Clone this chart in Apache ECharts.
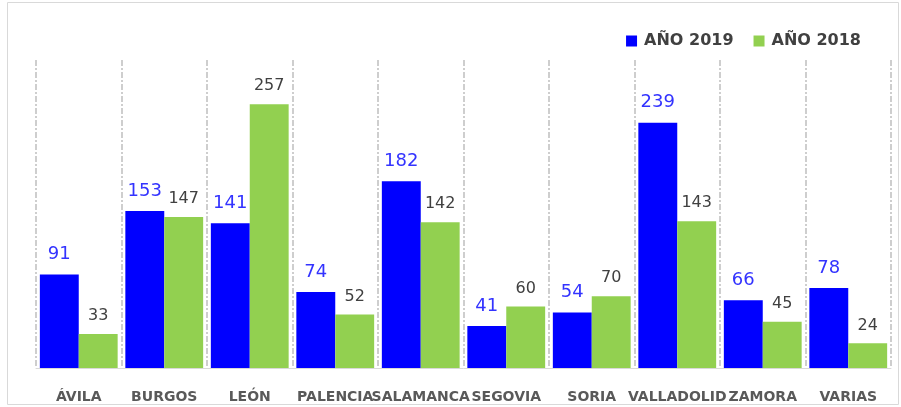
<!DOCTYPE html>
<html>
<head>
<meta charset="utf-8">
<script src="https://cdn.jsdelivr.net/npm/echarts@6/dist/echarts.min.js"></script>
<style>
  html, body { margin: 0; padding: 0; background: #fff; }
  #chart { width: 901px; height: 407px; }
</style>
</head>
<body>
<div id="chart"></div>
<script>
// provinces, values
var provinces = ['ÁVILA', 'BURGOS', 'LEÓN', 'PALENCIA', 'SALAMANCA', 'SEGOVIA', 'SORIA', 'VALLADOLID', 'ZAMORA', 'VARIAS'];
var year2019 = [91, 153, 141, 74, 182, 41, 54, 239, 66, 78];
var year2018 = [33, 147, 257, 52, 142, 60, 70, 143, 45, 24];

var chart = echarts.init(document.getElementById('chart'), null, { renderer: 'canvas' });

// wide Verdana-like face, closest to the original
var font = '"DejaVu Sans", Verdana, sans-serif';

chart.setOption({
    animation: false,
    textStyle: { fontFamily: font },
    graphic: [{
        type: 'rect',
        shape: { x: 7.5, y: 2.5, width: 891, height: 402 },
        style: { fill: 'none', stroke: '#D9D9D9', lineWidth: 1 },
        silent: true
    }],
    legend: {
        right: 35,
        top: 28,
        itemWidth: 11,
        itemHeight: 11,
        itemGap: 20,
        icon: 'rect',
        textStyle: { fontSize: 16, fontWeight: 'bold', color: '#404040', fontFamily: font, padding: [0, 0, 0, 2] },
        data: ['AÑO 2019', 'AÑO 2018']
    },
    grid: { left: 36, right: 10, top: 60, bottom: 39 },
    xAxis: {
        type: 'category',
        data: provinces,
        axisLine: { show: true, lineStyle: { color: '#D9D9D9' } },
        axisTick: { show: false },
        axisLabel: {
            interval: 0,
            hideOverlap: false,
            margin: 22,
            fontSize: 14,
            fontWeight: 'bold',
            color: '#595959',
            fontFamily: font
        },
        splitLine: {
            show: true,
            showMinLine: true,
            showMaxLine: true,
            lineStyle: { color: '#BFBFBF', width: 1.5, type: [6, 2, 2, 2] }
        }
    },
    yAxis: {
        type: 'value',
        min: 0,
        max: 300,
        show: false,
        splitLine: { show: false }
    },
    series: [{
        name: 'AÑO 2019',
        type: 'bar',
        data: year2019,
        barGap: 0,
        barCategoryGap: '9%',
        itemStyle: { color: '#0000FF' },
        label: {
            show: true,
            position: 'top',
            distance: 11,
            fontSize: 18,
            color: '#3333FF',
            fontFamily: font
        }
    }, {
        name: 'AÑO 2018',
        type: 'bar',
        data: year2018,
        barGap: 0,
        barCategoryGap: '9%',
        itemStyle: { color: '#92D050' },
        label: {
            show: true,
            position: 'top',
            distance: 10,
            fontSize: 16,
            color: '#404040',
            fontFamily: font
        }
    }]
});
</script>
</body>
</html>
